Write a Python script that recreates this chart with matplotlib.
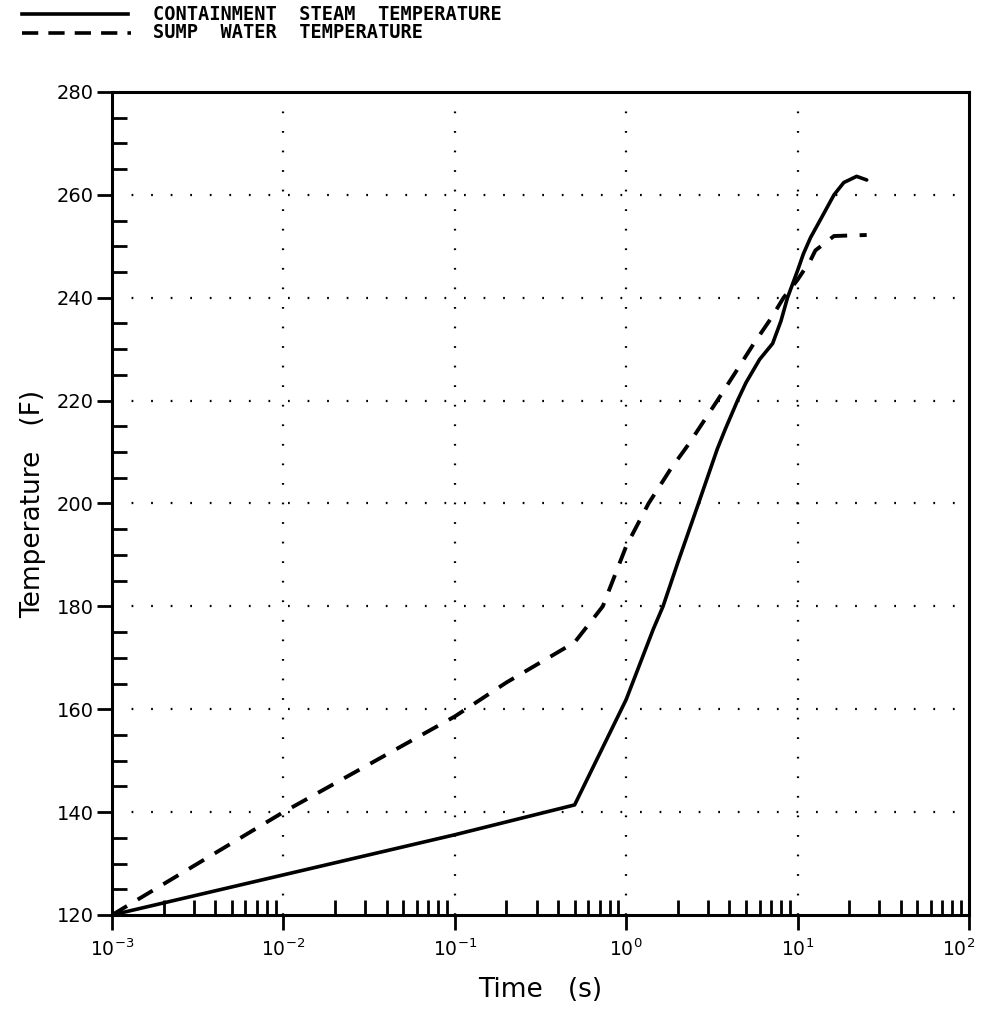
import numpy as np
import matplotlib
matplotlib.use("Agg")
import matplotlib.pyplot as plt
import matplotlib.transforms as mtransforms
from matplotlib.ticker import FixedLocator, LogLocator, NullFormatter

# Containment steam temperature (solid)
steam_t = [0.001, 0.01, 0.1, 0.5, 1.0, 1.44, 1.64, 2.0, 2.64, 3.4, 3.79, 4.46,
           5.0, 6.0, 7.15, 8.0, 8.73, 10.0, 10.8, 11.9, 13.6, 16.3, 18.6, 22.1, 25.3]
steam_T = [120.0, 127.8, 135.6, 141.4, 161.9, 175.6, 180.0, 188.5, 200.0, 210.6, 214.5, 220.0,
           223.5, 228.0, 231.1, 235.5, 240.0, 245.3, 248.5, 251.7, 255.2, 260.0, 262.4, 263.6, 262.9]

# Sump water temperature (dashed)
sump_t = [0.001, 0.01, 0.1, 0.2, 0.5, 0.73, 1.0, 1.35, 1.8, 2.31, 3.4, 4.4, 5.53,
          7.0, 8.28, 10.0, 11.9, 12.7, 16.3, 20.0, 25.3]
sump_T = [120.0, 140.0, 158.6, 165.2, 173.0, 180.0, 191.7, 200.0, 206.5, 211.5, 220.0, 225.8, 231.0,
          236.0, 240.0, 243.5, 247.3, 249.2, 252.0, 252.1, 252.2]

legend_labels = ["CONTAINMENT  STEAM  TEMPERATURE", "SUMP  WATER  TEMPERATURE"]
y_ticks = [120, 140, 160, 180, 200, 220, 240, 260, 280]
x_ticks = [1e-3, 1e-2, 1e-1, 1e0, 1e1, 1e2]
x_ticklabels = [r"$10^{-3}$", r"$10^{-2}$", r"$10^{-1}$", r"$10^{0}$", r"$10^{1}$", r"$10^{2}$"]

fig = plt.figure(figsize=(9.81, 10.29), dpi=100)
ax = fig.add_axes([112/981, 1-915/1029, (969-112)/981, (915-92)/1029])

ax.plot(steam_t, steam_T, color="black", lw=2.6, solid_capstyle="round", solid_joinstyle="round")
ax.plot(sump_t, sump_T, color="black", lw=2.8, linestyle=(0, (4.5, 3.2)))

ax.set_xscale("log")
ax.set_xlim(1e-3, 1e2)
ax.set_ylim(120, 280)

ax.set_xticks(x_ticks)
ax.set_xticklabels(x_ticklabels, fontsize=13.5)
ax.xaxis.set_minor_locator(LogLocator(base=10, subs=np.arange(2, 10)))
ax.xaxis.set_minor_formatter(NullFormatter())
ax.set_yticks(y_ticks)
ax.set_yticklabels([str(v) for v in y_ticks], fontsize=14)
ax.yaxis.set_minor_locator(FixedLocator(np.arange(120, 281, 5)))

ax.tick_params(axis="both", which="major", direction="out", length=11, width=2, color="black")
ax.tick_params(axis="both", which="minor", direction="in", length=11, width=2, color="black")
ax.tick_params(axis="x", which="major", pad=6)
ax.tick_params(axis="y", which="major", pad=2)

# keep the last x tick label inside the figure
last = ax.get_xticklabels()[-1]
last.set_horizontalalignment("right")
last.set_transform(last.get_transform() + mtransforms.ScaledTranslation(6/100, 0, fig.dpi_scale_trans))

for s in ax.spines.values():
    s.set_linewidth(2.2)

# dotted grid
for xv in [1e-2, 1e-1, 1e0, 1e1]:
    ax.axvline(xv, color="black", lw=1.6, linestyle=(0, (0.8, 8)), zorder=0)
for yv in [140, 160, 180, 200, 220, 240, 260]:
    ax.axhline(yv, color="black", lw=1.6, linestyle=(0, (0.8, 8)), zorder=0)

ax.set_xlabel("Time   (s)", fontsize=19, labelpad=12)
ax.set_ylabel("Temperature   (F)", fontsize=19, labelpad=8)

# legend at the top
fig.add_artist(plt.Line2D([22/981, 128/981], [1-14/1029, 1-14/1029], color="black", lw=2.6))
fig.add_artist(plt.Line2D([22/981, 131/981], [1-33/1029, 1-33/1029], color="black", lw=2.6,
                          linestyle=(0, (4.5, 2.8))))
fig.text(153/981, 1-14/1029, legend_labels[0], fontsize=13.4, fontweight="bold",
         family="DejaVu Sans Mono", va="center", ha="left")
fig.text(153/981, 1-33/1029, legend_labels[1], fontsize=13.4, fontweight="bold",
         family="DejaVu Sans Mono", va="center", ha="left")

fig.savefig("out.png", dpi=100, facecolor="white")
